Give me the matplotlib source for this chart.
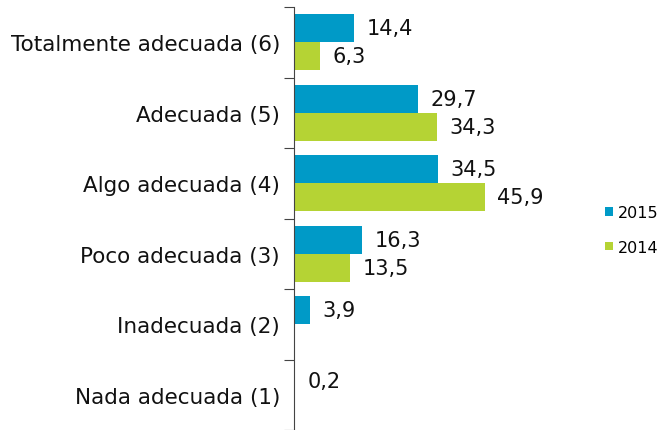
import numpy as np
import matplotlib
matplotlib.use("Agg")
import matplotlib.pyplot as plt

categories = ["Totalmente adecuada (6)", "Adecuada (5)", "Algo adecuada (4)",
              "Poco adecuada (3)", "Inadecuada (2)", "Nada adecuada (1)"]
v2015 = [14.4, 29.7, 34.5, 16.3, 3.9, 0.2]
v2014 = [6.3, 34.3, 45.9, 13.5, np.nan, np.nan]

BLUE, GREEN = "#009AC7", "#B5D334"

plt.rcParams.update({"font.family": "DejaVu Sans"})
fig = plt.figure(figsize=(6.64, 4.31), dpi=100)
ax = fig.add_axes([294 / 664, 0, 290 / 664, 423 / 431])

y = np.arange(len(categories))
h = 0.4
b15 = ax.barh(y - h / 2, v2015, height=h, color=BLUE, label="2015")
b14 = ax.barh(y + h / 2, v2014, height=h, color=GREEN, label="2014")

for bars, vals in ((b15, v2015), (b14, v2014)):
    for rect, v in zip(bars, vals):
        if np.isnan(v):
            continue
        ax.annotate(f"{v:.1f}".replace(".", ","),
                    (v, rect.get_y() + rect.get_height() / 2),
                    xytext=(9, 0), textcoords="offset points",
                    ha="left", va="center", fontsize=15, color="#111111")

ax.set_xlim(0, 290 / 4.16)
ax.set_ylim(len(categories) - 0.5, -0.5)
ax.set_yticks(np.arange(len(categories) + 1) - 0.5)
ax.set_yticklabels([])
ax.tick_params(axis="y", which="major", length=7, color="#444444")
ax.set_yticks(y, minor=True)
ax.set_yticklabels(categories, minor=True, fontsize=15.5, color="#111111")
ax.tick_params(axis="y", which="minor", length=0, pad=10)
ax.set_xticks([])
for s in ("top", "right", "bottom"):
    ax.spines[s].set_visible(False)
ax.spines["left"].set_color("#444444")

fig.legend(handles=[b15, b14], loc="center left", bbox_to_anchor=(591 / 664, 1 - 231 / 431),
           frameon=False, fontsize=11.5, handlelength=0.45, handleheight=0.45,
           handletextpad=0.35, labelspacing=1.2)

fig.savefig("out.png", dpi=100)
